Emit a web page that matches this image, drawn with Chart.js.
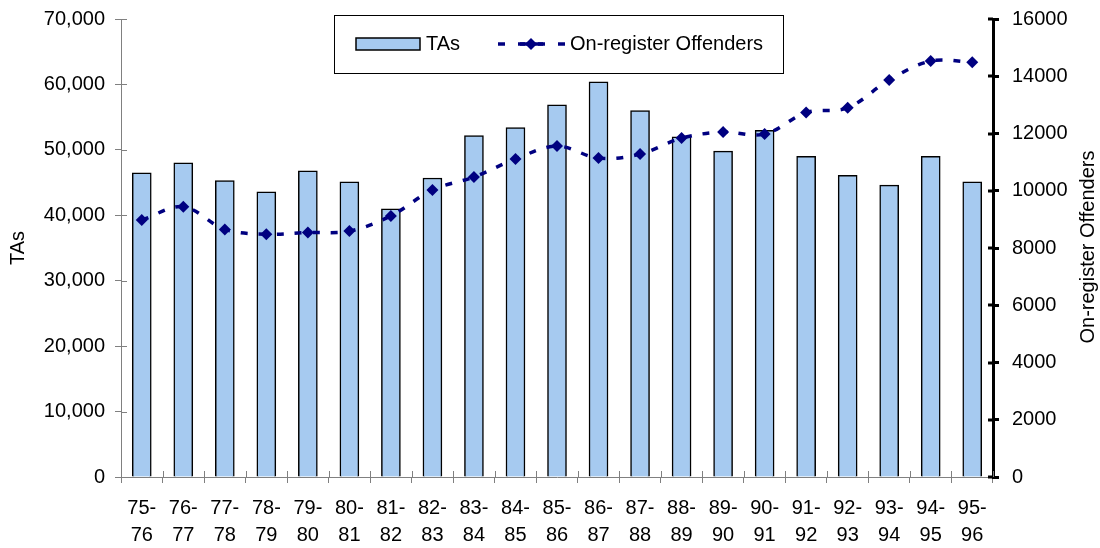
<!DOCTYPE html>
<html>
<head>
<meta charset="utf-8">
<script src="https://cdn.jsdelivr.net/npm/chart.js@4"></script>
<style>
  html, body { margin: 0; padding: 0; background: #fff; }
  #wrap { width: 1100px; height: 548px; }
</style>
</head>
<body>
<div id="wrap"><canvas id="chart" width="1100" height="548"></canvas></div>
<script>
// データ
const years = ["75-76","76-77","77-78","78-79","79-80","80-81","81-82","82-83","83-84","84-85","85-86",
  "86-87","87-88","88-89","89-90","90-91","91-92","92-93","93-94","94-95","95-96"];
const tas = [46500, 48000, 45300, 43600, 46800, 45100, 41000, 45700, 52200, 53400, 56900,
  60400, 56000, 52000, 49800, 53000, 49000, 46100, 44600, 49000, 45100];
const offenders = [8980, 9440, 8650, 8480, 8540, 8590, 9120, 10030, 10480, 11110, 11560,
  11140, 11280, 11840, 12050, 11980, 12730, 12900, 13870, 14530, 14490];
const leftTicks = [0, 10000, 20000, 30000, 40000, 50000, 60000, 70000];
const rightTicks = [0, 2000, 4000, 6000, 8000, 10000, 12000, 14000, 16000];

const FONT = "'Liberation Sans', Arial, sans-serif";
const BAR_FILL = "#a6caf0";
const NAVY = "#000080";

// 軸の内側にも目盛りを出す + 右タイトル + 凡例
const extras = {
  id: "extras",
  afterDraw(chart) {
    const ctx = chart.ctx;
    const { x, y, y1 } = chart.scales;
    ctx.save();
    // inward tick marks
    ctx.strokeStyle = "#808080";
    ctx.lineWidth = 1;
    y.ticks.forEach(t => {
      const py = Math.round(y.getPixelForValue(t.value)) + 0.5;
      ctx.beginPath(); ctx.moveTo(y.right, py); ctx.lineTo(y.right + 6, py); ctx.stroke();
    });
    for (let i = 0; i <= years.length; i++) {
      const px = Math.round(x.left + i * (x.right - x.left) / years.length) + 0.5;
      ctx.beginPath(); ctx.moveTo(px, x.top); ctx.lineTo(px, x.top - 6); ctx.stroke();
    }
    ctx.strokeStyle = "#000";
    ctx.lineWidth = 3;
    y1.ticks.forEach(t => {
      const py = Math.round(y1.getPixelForValue(t.value));
      ctx.beginPath(); ctx.moveTo(y1.left, py); ctx.lineTo(y1.left - 5, py); ctx.stroke();
    });

    // right axis title (bottom-to-top)
    ctx.fillStyle = "#000";
    ctx.font = "20px " + FONT;
    ctx.textAlign = "center";
    ctx.textBaseline = "middle";
    ctx.translate(1088, 247);
    ctx.rotate(-Math.PI / 2);
    ctx.fillText("On-register Offenders", 0, 0);
    ctx.setTransform(1, 0, 0, 1, 0, 0);

    // legend
    ctx.fillStyle = "#fff";
    ctx.fillRect(334, 15, 449, 58);
    ctx.strokeStyle = "#000";
    ctx.lineWidth = 1;
    ctx.strokeRect(334.5, 15.5, 449, 58);
    ctx.fillStyle = BAR_FILL;
    ctx.fillRect(356, 38, 64, 12);
    ctx.lineWidth = 1.5;
    ctx.strokeRect(356, 38, 64, 12);
    ctx.fillStyle = "#000";
    ctx.textAlign = "left";
    ctx.fillText("TAs", 426, 44);
    ctx.strokeStyle = NAVY;
    ctx.lineWidth = 3.5;
    ctx.setLineDash([7, 13]);
    ctx.beginPath(); ctx.moveTo(498, 44); ctx.lineTo(565, 44); ctx.stroke();
    ctx.setLineDash([]);
    ctx.beginPath(); ctx.moveTo(520, 44); ctx.lineTo(543, 44); ctx.stroke();
    ctx.fillStyle = NAVY;
    ctx.beginPath();
    ctx.moveTo(531, 38); ctx.lineTo(537, 44); ctx.lineTo(531, 50); ctx.lineTo(525, 44);
    ctx.closePath(); ctx.fill();
    ctx.fillStyle = "#000";
    ctx.fillText("On-register Offenders", 570, 44);
    ctx.restore();
  }
};

new Chart(document.getElementById("chart").getContext("2d"), {
  type: "bar",
  data: {
    labels: years.map(s => [s.slice(0, 3), s.slice(3)]),
    datasets: [
      {
        type: "line",
        label: "On-register Offenders",
        data: offenders,
        yAxisID: "y1",
        borderColor: NAVY,
        borderWidth: 3.5,
        borderDash: [7, 11],
        tension: 0.35,
        pointStyle: "rectRot",
        pointRadius: 6,
        pointBackgroundColor: NAVY,
        pointBorderWidth: 0,
        order: 1
      },
      {
        label: "TAs",
        data: tas,
        yAxisID: "y",
        backgroundColor: BAR_FILL,
        borderColor: "#000",
        borderWidth: 1.5,
        barThickness: 19,
        order: 2
      }
    ]
  },
  options: {
    responsive: false,
    animation: false,
    layout: { padding: { left: 0, right: 0, top: 19, bottom: 0 } },
    plugins: { legend: { display: false }, tooltip: { enabled: false } },
    scales: {
      x: {
        grid: { drawOnChartArea: false, tickLength: 6, color: "#808080" },
        border: { color: "#808080", width: 1 },
        ticks: { color: "#000", font: { family: FONT, size: 20, lineHeight: 1.35 }, padding: 12, maxRotation: 0, autoSkip: false },
        afterFit(s) { s.height = 71; s.paddingLeft = 0; s.paddingRight = 0; }
      },
      y: {
        position: "left",
        min: 0, max: 70000,
        afterBuildTicks(s) { s.ticks = leftTicks.map(v => ({ value: v })); },
        grid: { drawOnChartArea: false, tickLength: 6, color: "#808080" },
        border: { color: "#808080", width: 1 },
        ticks: { color: "#000", font: { family: FONT, size: 20 }, padding: 10,
          callback: v => v.toLocaleString("en-US") },
        title: { display: true, text: "TAs", color: "#000", font: { family: FONT, size: 20 }, padding: { top: 6, bottom: 0 } },
        afterFit(s) { s.width = 121; s.paddingTop = 0; s.paddingBottom = 0; }
      },
      y1: {
        position: "right",
        min: 0, max: 16000,
        afterBuildTicks(s) { s.ticks = rightTicks.map(v => ({ value: v })); },
        grid: { drawOnChartArea: false, tickLength: 6, color: "#000", lineWidth: 3 },
        border: { color: "#000", width: 3 },
        ticks: { color: "#000", font: { family: FONT, size: 20 }, padding: 13,
          callback: v => String(v) },
        afterFit(s) { s.width = 107; s.paddingTop = 0; s.paddingBottom = 0; }
      }
    }
  },
  plugins: [extras]
});
</script>
</body>
</html>
